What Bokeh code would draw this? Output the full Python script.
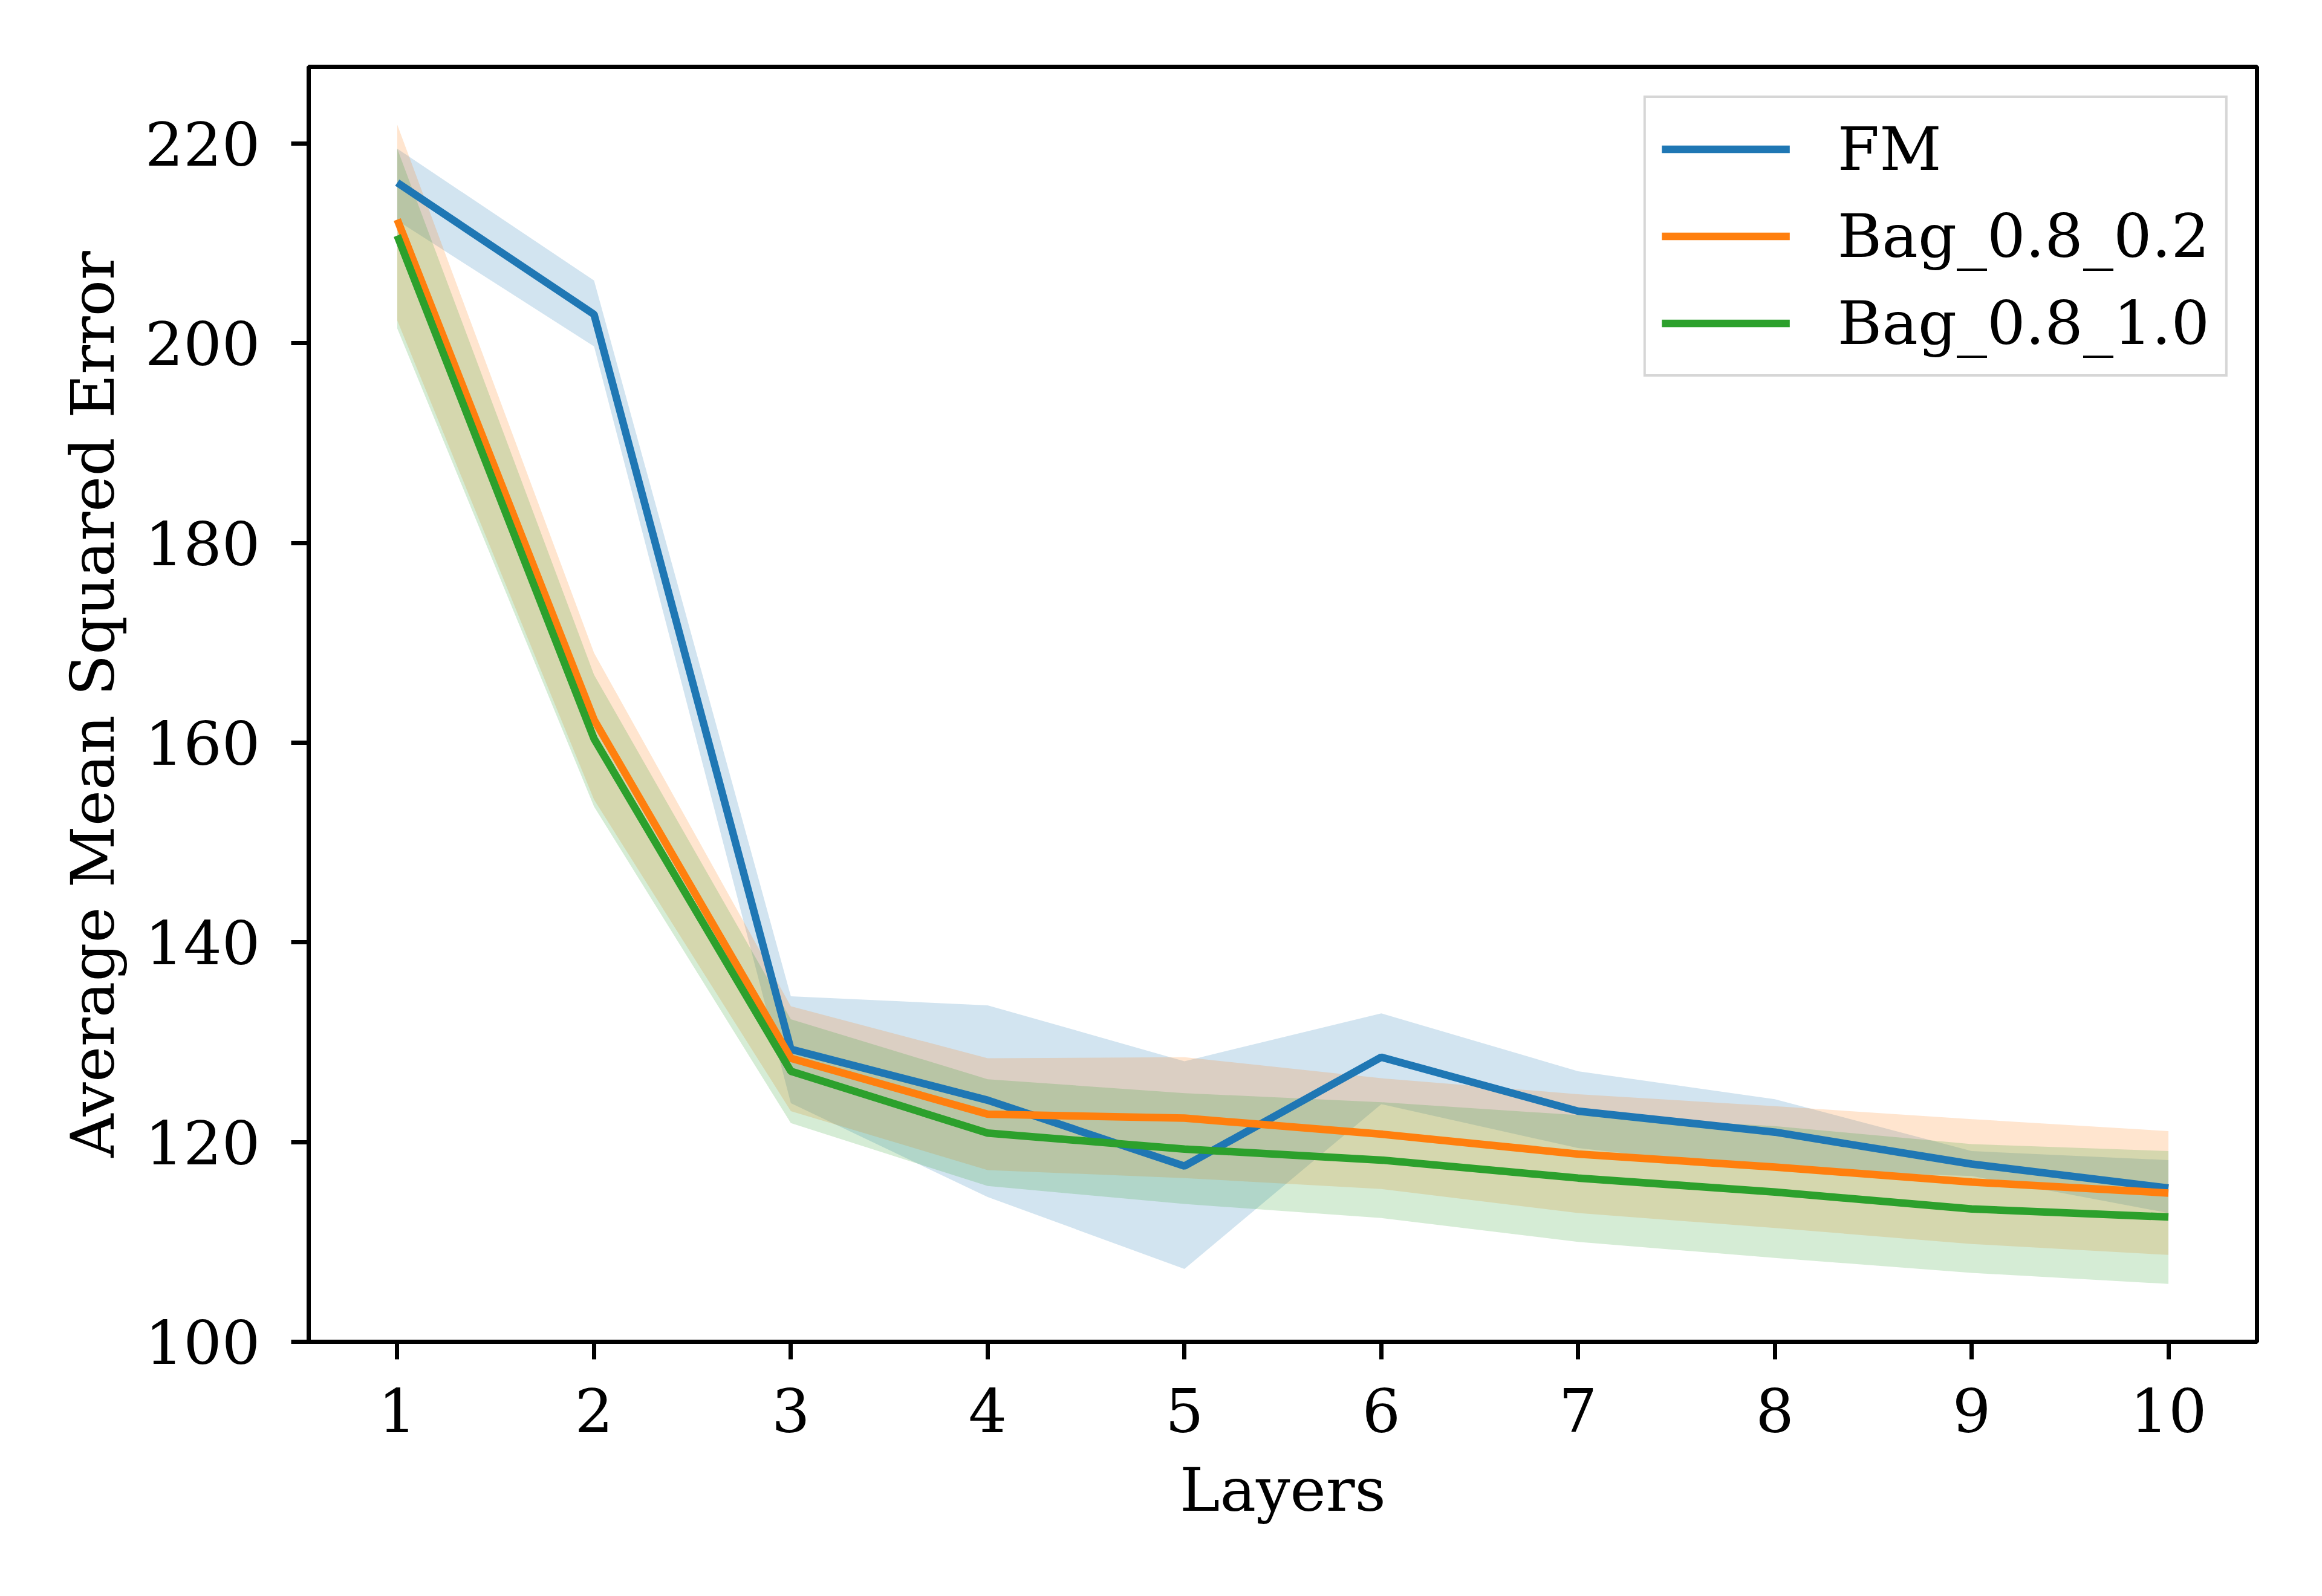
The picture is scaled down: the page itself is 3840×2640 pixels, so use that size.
from bokeh.plotting import figure
from bokeh.models import Range1d, Legend, LegendItem, FixedTicker
from bokeh.embed import file_html
from bokeh.resources import INLINE

layers = [1, 2, 3, 4, 5, 6, 7, 8, 9, 10]

fm_mean = [216.1, 202.9, 129.3, 124.2, 117.6, 128.5, 123.1, 121.0, 117.8, 115.4]
fm_lo = [212.3, 199.7, 123.9, 114.5, 107.3, 123.8, 119.4, 117.2, 116.6, 112.9]
fm_hi = [219.5, 206.3, 134.6, 133.7, 128.1, 132.9, 127.1, 124.3, 119.1, 118.2]

b02_mean = [212.4, 162.3, 128.4, 122.8, 122.4, 120.8, 118.8, 117.5, 116.0, 114.9]
b02_lo = [202.3, 154.3, 123.1, 117.2, 116.4, 115.3, 112.9, 111.4, 109.8, 108.7]
b02_hi = [221.9, 169.0, 133.6, 128.4, 128.5, 126.4, 124.8, 123.6, 122.3, 121.1]

b10_mean = [210.8, 160.4, 127.1, 120.9, 119.3, 118.2, 116.4, 115.0, 113.3, 112.5]
b10_lo = [201.5, 153.6, 121.9, 115.6, 113.8, 112.4, 110.0, 108.4, 106.9, 105.8]
b10_hi = [219.5, 166.8, 132.3, 126.3, 124.9, 124.0, 122.7, 121.6, 119.8, 119.1]

names = ["FM", "Bag_0.8_0.2", "Bag_0.8_1.0"]
colors = ["#1f77b4", "#ff7f0e", "#2ca02c"]
y_ticks = [100, 120, 140, 160, 180, 200, 220]

FONT = "DejaVu Serif"
FS = "100px"

W, H = 3820, 2620
p = figure(width=W, height=H, output_backend="svg", toolbar_location=None,
           x_range=Range1d(0.55, 10.45), y_range=Range1d(100, 227.7),
           min_border_left=510, min_border_right=88, min_border_top=110,
           min_border_bottom=401)
p.background_fill_color = "white"
p.border_fill_color = "white"
p.grid.visible = False
p.outline_line_color = "black"
p.outline_line_width = 7

series = [(fm_mean, fm_lo, fm_hi), (b02_mean, b02_lo, b02_hi), (b10_mean, b10_lo, b10_hi)]

# bands below all lines (as in matplotlib's default z-ordering)
for (m, lo, hi), c in zip(series, colors):
    p.varea(x=layers, y1=lo, y2=hi, fill_color=c, fill_alpha=0.2)

items = []
for (m, lo, hi), c, n in zip(series, colors, names):
    r = p.line(layers, m, line_color=c, line_width=12.5)
    items.append(LegendItem(label=n, renderers=[r]))

for ax in (p.xaxis, p.yaxis):
    ax.axis_line_color = "black"
    ax.axis_line_width = 7
    ax.major_tick_line_color = "black"
    ax.major_tick_line_width = 7
    ax.major_tick_out = 29
    ax.major_tick_in = 0
    ax.minor_tick_line_color = None
    ax.major_label_text_font = FONT
    ax.major_label_text_font_size = FS
    ax.major_label_text_color = "black"
    ax.axis_label_text_font = FONT
    ax.axis_label_text_font_size = FS
    ax.axis_label_text_font_style = "normal"
    ax.axis_label_text_color = "black"

p.xaxis.ticker = FixedTicker(ticks=layers)
p.yaxis.ticker = FixedTicker(ticks=y_ticks)
p.xaxis.axis_label = "Layers"
p.yaxis.axis_label = "Average Mean Squared Error"
p.xaxis.major_label_standoff = 47
p.yaxis.major_label_standoff = 51
p.xaxis.axis_label_standoff = 34
p.yaxis.axis_label_standoff = 25

legend = Legend(items=items, location="top_right")
legend.label_text_font = FONT
legend.label_text_font_size = FS
legend.label_text_color = "black"
legend.glyph_width = 212
legend.glyph_height = 109
legend.label_height = 109
legend.label_standoff = 79
legend.spacing = 27
legend.padding = 26
legend.margin = 48
legend.border_line_color = "#cccccc"
legend.border_line_width = 4
legend.border_line_alpha = 0.8
legend.background_fill_color = "white"
legend.background_fill_alpha = 0.8
p.add_layout(legend)

open("out.html", "w").write(file_html(p, INLINE))
